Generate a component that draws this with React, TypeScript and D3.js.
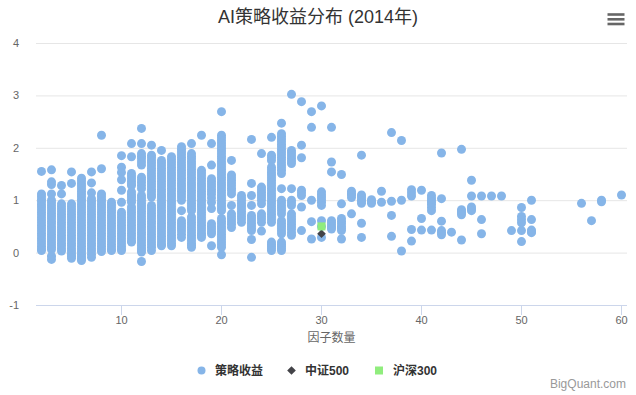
import React from 'react'
import * as d3 from 'd3'

// factor count -> list of strategy returns seen at that count
const factorCounts = [2, 3, 4, 5, 6, 7, 8, 9, 10, 11, 12, 13, 14, 15, 16, 17, 18, 19, 20, 21, 22, 23, 24, 25, 26, 27, 28, 29, 30, 31, 32, 33, 34, 35, 36, 37, 38, 39, 40, 41, 42, 43, 44, 45, 46, 47, 48, 49, 50, 51, 56, 57, 58, 60]
const strategyReturns: number[][] = [
  [1.55, 1.12, 1.07, 1.02, 0.97, 0.92, 0.87, 0.82, 0.77, 0.72, 0.67, 0.62, 0.57, 0.52, 0.47, 0.42, 0.37, 0.32, 0.27, 0.22, 0.17, 0.12, 0.07, 0.04],
  [1.58, 1.35, 1.3, 1.12, 1.0, 0.95, 0.9, 0.85, 0.8, 0.75, 0.7, 0.65, 0.6, 0.55, 0.5, 0.45, 0.4, 0.35, 0.3, 0.25, 0.2, 0.15, 0.1, 0.06, -0.07, -0.13],
  [1.28, 1.12, 0.93, 0.88, 0.83, 0.78, 0.73, 0.68, 0.63, 0.58, 0.53, 0.48, 0.43, 0.38, 0.33, 0.28, 0.23, 0.18, 0.13, 0.08, 0.03],
  [1.54, 1.32, 0.93, 0.88, 0.83, 0.78, 0.73, 0.68, 0.63, 0.58, 0.53, 0.48, 0.43, 0.38, 0.33, 0.28, 0.23, 0.18, 0.13, 0.08, 0.03, -0.02, -0.07, -0.11],
  [1.42, 1.37, 1.32, 1.27, 1.22, 1.17, 1.12, 1.07, 1.02, 0.97, 0.92, 0.87, 0.82, 0.77, 0.72, 0.67, 0.62, 0.57, 0.52, 0.47, 0.42, 0.37, 0.32, 0.27, 0.22, 0.17, 0.12, 0.07, 0.02, -0.03, -0.08, -0.12, -0.15],
  [1.54, 1.33, 1.14, 1.03, 0.98, 0.93, 0.88, 0.83, 0.78, 0.73, 0.68, 0.63, 0.58, 0.53, 0.48, 0.43, 0.38, 0.33, 0.28, 0.23, 0.18, 0.13, 0.08, 0.03, -0.03, -0.09],
  [2.24, 1.6, 1.12, 1.07, 1.02, 0.97, 0.92, 0.87, 0.82, 0.77, 0.72, 0.67, 0.62, 0.57, 0.52, 0.47, 0.42, 0.37, 0.32, 0.27, 0.22, 0.17, 0.12, 0.07, 0.02],
  [0.96, 0.91, 0.86, 0.81, 0.76, 0.71, 0.66, 0.61, 0.56, 0.51, 0.46, 0.41, 0.36, 0.31, 0.26, 0.21, 0.16, 0.11, 0.06, 0.04],
  [1.85, 1.63, 1.53, 1.39, 1.19, 0.96, 0.77, 0.72, 0.67, 0.62, 0.57, 0.52, 0.47, 0.42, 0.37, 0.32, 0.27, 0.22, 0.17, 0.12, 0.07, 0.04],
  [2.08, 1.83, 1.51, 1.46, 1.41, 1.36, 1.31, 1.28, 1.16, 1.11, 1.06, 1.01, 0.96, 0.87, 0.82, 0.77, 0.72, 0.67, 0.62, 0.57, 0.52, 0.47, 0.42, 0.37, 0.32, 0.27, 0.22, 0.2],
  [2.37, 2.08, 1.89, 1.84, 1.79, 1.73, 1.67, 1.44, 1.39, 1.34, 1.28, 1.22, 1.09, 1.04, 0.99, 0.94, 0.89, 0.84, 0.79, 0.74, 0.69, 0.64, 0.59, 0.54, 0.49, 0.44, 0.39, 0.34, 0.29, 0.24, 0.19, 0.14, 0.09, 0.05, 0.01, -0.17],
  [2.05, 1.86, 1.81, 1.76, 1.71, 1.66, 1.61, 1.56, 1.51, 1.46, 1.41, 1.36, 1.31, 1.26, 1.21, 1.16, 1.11, 1.06, 0.9, 0.85, 0.8, 0.75, 0.7, 0.65, 0.6, 0.55, 0.5, 0.45, 0.4, 0.35, 0.3, 0.25, 0.2, 0.15, 0.1, 0.04],
  [1.95, 1.76, 1.71, 1.66, 1.61, 1.56, 1.51, 1.46, 1.41, 1.36, 1.31, 1.26, 1.21, 1.16, 1.11, 1.06, 1.01, 0.96, 0.91, 0.86, 0.81, 0.76, 0.71, 0.66, 0.61, 0.56, 0.51, 0.46, 0.41, 0.36, 0.31, 0.26, 0.21, 0.16, 0.13],
  [1.83, 1.78, 1.73, 1.68, 1.63, 1.58, 1.53, 1.48, 1.43, 1.38, 1.33, 1.28, 1.23, 1.18, 1.13, 1.08, 1.03, 0.98, 0.93, 0.88, 0.83, 0.78, 0.73, 0.68, 0.63, 0.58, 0.53, 0.48, 0.43, 0.38, 0.33, 0.28, 0.23, 0.18, 0.13],
  [2.02, 1.97, 1.92, 1.87, 1.82, 1.77, 1.72, 1.67, 1.62, 1.57, 1.52, 1.47, 1.42, 1.37, 1.32, 1.27, 1.22, 1.17, 1.12, 1.06, 1.0, 0.8, 0.61, 0.56, 0.51, 0.46, 0.41, 0.35, 0.29],
  [2.08, 1.89, 1.84, 1.79, 1.74, 1.69, 1.64, 1.59, 1.54, 1.49, 1.44, 1.39, 1.34, 1.29, 1.24, 1.19, 1.14, 1.09, 1.04, 0.99, 0.94, 0.89, 0.84, 0.8, 0.68, 0.63, 0.58, 0.53, 0.48, 0.43, 0.38, 0.33, 0.28, 0.23, 0.18, 0.14, 0.1],
  [2.24, 1.57, 1.52, 1.47, 1.42, 1.37, 1.32, 1.27, 1.22, 1.17, 1.12, 1.07, 1.02, 0.97, 0.92, 0.87, 0.82, 0.77, 0.72, 0.67, 0.62, 0.57, 0.52, 0.47, 0.42, 0.37, 0.33, 0.29],
  [2.08, 1.67, 1.41, 1.36, 1.31, 1.26, 1.21, 1.16, 1.11, 1.04, 0.96, 0.84, 0.55, 0.5, 0.45, 0.4, 0.36, 0.13],
  [2.69, 2.24, 2.19, 2.14, 2.09, 2.04, 1.99, 1.94, 1.89, 1.84, 1.79, 1.74, 1.69, 1.64, 1.59, 1.54, 1.49, 1.44, 1.39, 1.34, 1.29, 1.24, 1.19, 1.14, 1.09, 1.04, 0.99, 0.94, 0.89, 0.84, 0.8, 0.65, 0.6, 0.55, 0.5, 0.45, 0.4, 0.35, 0.3, 0.25, 0.2, 0.15, 0.1, -0.04],
  [1.76, 1.48, 1.43, 1.38, 1.33, 1.28, 1.23, 1.18, 1.12, 0.9, 0.74, 0.69, 0.64, 0.59, 0.54, 0.48],
  [1.09, 1.04, 0.99, 0.94, 0.89, 0.84, 0.79, 0.74, 0.69, 0.64, 0.58],
  [2.16, 1.32, 1.09, 0.9, 0.71, 0.66, 0.61, 0.56, 0.51, 0.46, 0.42, 0.25, -0.09],
  [1.89, 1.25, 1.2, 1.15, 1.1, 1.05, 1.0, 0.93, 0.74, 0.69, 0.64, 0.58, 0.41],
  [2.2, 1.86, 1.81, 1.76, 1.63, 1.58, 1.53, 1.48, 1.43, 1.38, 1.33, 1.28, 1.23, 1.18, 1.13, 1.08, 1.03, 0.98, 0.93, 0.88, 0.83, 0.78, 0.73, 0.68, 0.63, 0.58, 0.2, 0.16, 0.12, 0.08, 0.04],
  [2.47, 2.27, 2.22, 2.17, 2.12, 2.07, 2.02, 1.97, 1.92, 1.87, 1.82, 1.77, 1.72, 1.67, 1.62, 1.57, 1.51, 1.22, 1.0, 0.95, 0.9, 0.85, 0.8, 0.74, 0.61, 0.56, 0.51, 0.46, 0.41, 0.36, 0.2, 0.16, 0.12, 0.08, 0.04],
  [3.02, 1.95, 1.9, 1.85, 1.8, 1.75, 1.7, 1.22, 1.0, 0.95, 0.9, 0.74, 0.69, 0.64, 0.59, 0.54, 0.49, 0.44, 0.38, 0.33],
  [2.88, 2.05, 1.81, 1.19, 1.14, 1.09, 0.87, 0.42],
  [2.69, 2.39, 1.0, 0.59, 0.26],
  [2.8, 1.16, 1.11, 1.06, 1.01, 0.96, 0.9, 0.61, 0.5, 0.29],
  [2.39, 1.73, 1.54, 0.61, 0.57, 0.53, 0.49, 0.45],
  [1.49, 0.93, 0.65, 0.6, 0.55, 0.5, 0.46, 0.42, 0.26],
  [1.17, 1.13, 1.1, 1.05, 0.74],
  [1.86, 1.1, 1.06, 1.02, 0.98, 0.94, 0.56, 0.29],
  [1.01, 0.97, 0.94],
  [1.17, 0.96],
  [2.29, 0.98, 0.71, 0.31],
  [2.14, 1.0, 0.03],
  [1.2, 1.14, 1.08, 0.44, 0.22],
  [1.19, 0.65, 0.43],
  [1.09, 1.04, 1.0, 0.96, 0.92, 0.86, 0.8, 0.43],
  [1.9, 1.03, 0.6, 0.42, 0.38, 0.34],
  [0.39],
  [1.97, 0.82, 0.78, 0.76, 0.72, 0.24],
  [1.38, 1.08, 0.87, 0.83, 0.8],
  [1.08, 0.63, 0.36],
  [1.08],
  [1.08],
  [0.42],
  [0.86, 0.69, 0.63, 0.57, 0.42, 0.21],
  [1.0, 0.63, 0.43, 0.4, 0.38],
  [0.94],
  [0.61],
  [1.0, 0.97],
  [1.1],
]
const csi500: [number, number][] = [[30, 0.36]]
const hs300: [number, number][] = [[30, 0.5]]

const yTicks = [-1, 0, 1, 2, 3, 4]
const xTicks = [10, 20, 30, 40, 50, 60]
const legendItems = ['策略收益', '中证500', '沪深300']

const width = 636
const height = 395
const font = '"Liberation Sans", Arial, "Noto Sans CJK SC", sans-serif'
const blue = '#86b5e8'

export default function App() {
  const x = d3.scaleLinear().domain([1.45, 60.55]).range([36, 627])
  const y = d3.scaleLinear().domain([-1, 4]).range([305, 43])

  const points = factorCounts.flatMap((fc, i) => strategyReturns[i].map((v) => [fc, v]))
  const diamond = d3.symbol().type(d3.symbolDiamond2).size(48)

  return (
    <svg
      width={width}
      height={height}
      style={{ position: 'absolute', left: 0, top: 0, fontFamily: font, background: '#fff' }}
    >
      <text x={318} y={23} textAnchor="middle" fontSize={18} fill="#333">
        AI策略收益分布 (2014年)
      </text>
      <g stroke="#666" strokeWidth={2.6}>
        {[14.5, 19.3, 24].map((ly) => (
          <line key={ly} x1={607.5} x2={624.5} y1={ly} y2={ly} />
        ))}
      </g>

      {/* grid */}
      {yTicks.map((t) => (
        <g key={t}>
          {t !== -1 ? (
            <line x1={36} x2={627} y1={y(t) + 0.5} y2={y(t) + 0.5} stroke="#e6e6e6" />
          ) : null}
          <text x={19} y={y(t) + 4} textAnchor="end" fontSize={11} fill="#666">
            {t}
          </text>
        </g>
      ))}
      <line x1={36} x2={627} y1={305.5} y2={305.5} stroke="#ccd6eb" />
      {xTicks.map((t) => (
        <g key={t}>
          <line x1={x(t)} x2={x(t)} y1={305} y2={315} stroke="#ccd6eb" />
          <text x={x(t)} y={324} textAnchor="middle" fontSize={11} fill="#666">
            {t}
          </text>
        </g>
      ))}
      <text x={331.5} y={342} textAnchor="middle" fontSize={12} fill="#666">
        因子数量
      </text>

      {/* series */}
      <g fill={blue}>
        {points.map(([px, py], i) => (
          <circle key={i} cx={x(px)} cy={y(py)} r={4.5} />
        ))}
      </g>
      {csi500.map(([px, py], i) => (
        <path key={i} d={diamond()!} transform={`translate(${x(px)},${y(py)})`} fill="#434348" />
      ))}
      {hs300.map(([px, py], i) => (
        <rect key={i} x={x(px) - 4} y={y(py) - 4} width={8} height={8} fill="#90ed7d" />
      ))}

      {/* legend */}
      <g fontSize={12} fontWeight="bold" fill="#333">
        <circle cx={201.5} cy={370.5} r={4} fill={blue} />
        <text x={215} y={375}>{legendItems[0]}</text>
        <path d={diamond()!} transform="translate(291.5,370.5)" fill="#434348" />
        <text x={305} y={375}>{legendItems[1]}</text>
        <rect x={375} y={366.5} width={8} height={8} fill="#90ed7d" />
        <text x={393} y={375}>{legendItems[2]}</text>
      </g>
      <text x={626} y={388} textAnchor="end" fontSize={12} fill="#999">
        BigQuant.com
      </text>
    </svg>
  )
}
